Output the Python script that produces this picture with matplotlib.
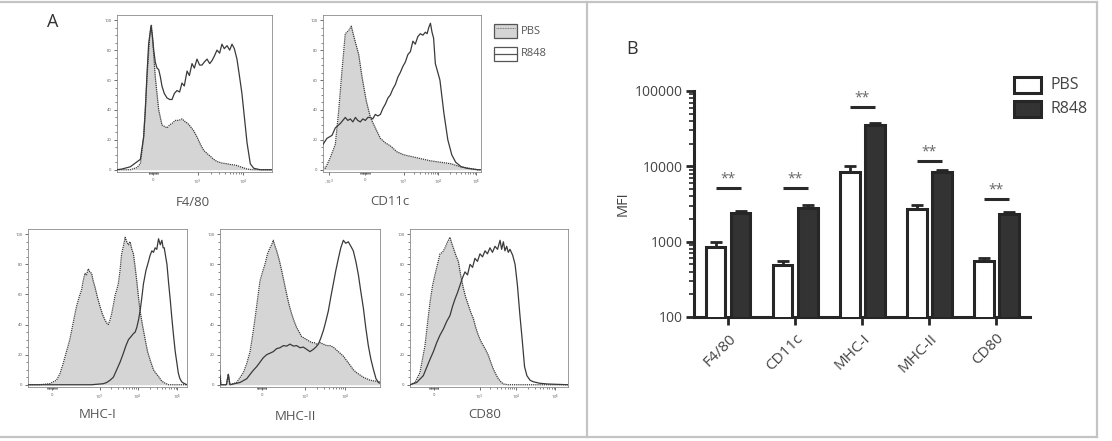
import numpy as np
import matplotlib.pyplot as plt
from matplotlib.lines import Line2D
from matplotlib.patches import Rectangle

plt.rcParams['font.family'] = ['Open Sans', 'DejaVu Sans']

# ---------------- panel A : flow histograms (channel 0-1000, % of max) ----------------
f480_pbs_x = [0, 43, 86, 129, 151, 172, 194, 211, 222, 232, 247, 269, 290, 306, 323, 340, 355, 377, 398, 420,
              441, 457, 473, 495, 516, 538, 559, 580, 602, 624, 645, 677, 710, 732, 753, 775, 796, 818, 839, 860,
              882, 940, 1000]
f480_pbs_y = [0, 0, 0, 1.5, 4, 22, 62, 89, 97, 84, 62, 40, 30, 29, 28, 30, 31, 33, 33, 34,
              32, 31, 29, 26, 22, 17, 13, 11, 9, 7, 5.5, 4.5, 4, 3.5, 3.3, 2.8, 2, 1.2, 0.5, 0.2,
              0, 0, 0]
f480_r848_x = [0, 32, 86, 151, 172, 183, 194, 204, 219, 228, 237, 247, 258, 269, 280, 290, 305, 323, 340, 355,
               370, 387, 404, 419, 434, 452, 467, 484, 499, 516, 533, 548, 563, 581, 598, 613, 628, 645, 662, 677,
               692, 710, 727, 742, 757, 774, 791, 806, 822, 839, 860, 882, 925, 1000]
f480_r848_y = [0, 0.5, 2, 7, 22, 40, 65, 84, 96, 90, 80, 72, 68, 67, 62, 56, 51, 48, 47, 47,
               51, 53, 52, 58, 56, 66, 63, 71, 68, 74, 70, 70, 72, 74, 71, 73, 76, 80, 78, 84,
               81, 83, 80, 84, 81, 74, 62, 51, 35, 18, 4, 1, 0, 0]

cd11c_pbs_x = [0, 15, 46, 78, 99, 120, 141, 162, 179, 198, 226, 247, 274, 300, 331, 363, 395, 426, 468, 511,
               553, 595, 637, 679, 711, 745, 780, 810, 840, 870, 900, 950, 980, 1000]
cd11c_pbs_y = [2, 1, 8, 17, 39, 66, 91, 93, 96, 88, 77, 62, 46, 35, 28, 21, 18, 16, 12, 10,
               9, 8, 7, 6, 5.5, 5, 4.5, 4, 3, 2, 1.5, 0.5, 0, 0]
cd11c_r848_x = [0, 25, 57, 78, 110, 141, 157, 173, 189, 205, 220, 236, 252, 268, 284, 300, 315, 331, 347, 363,
                379, 395, 411, 426, 442, 458, 474, 489, 505, 521, 537, 553, 569, 584, 600, 616, 632, 648, 659, 669,
                680, 690, 700, 711, 740, 765, 790, 815, 840, 875, 910, 980, 1000]
cd11c_r848_y = [17, 21, 23, 28, 31, 35, 33, 34, 32, 35, 33, 32, 34, 33, 35, 35, 34, 37, 36, 37,
                41, 44, 48, 50, 54, 57, 62, 65, 69, 72, 77, 79, 86, 84, 89, 91, 90, 92, 91, 95,
                98, 92, 88, 71, 60, 38, 20, 10, 5, 2, 1, 0, 0]

mhc1_pbs_x = [0, 74, 137, 179, 200, 221, 242, 263, 284, 305, 321, 337, 347, 358, 368, 379, 389, 400, 410, 421,
              437, 453, 468, 484, 495, 505, 516, 526, 537, 547, 558, 568, 579, 589, 600, 611, 621, 632, 642, 653,
              663, 674, 684, 695, 705, 721, 737, 752, 768, 779, 789, 805, 821, 837, 853, 884, 1000]
mhc1_pbs_y = [0, 0, 0.7, 3, 7, 14, 22, 30, 41, 52, 58, 63, 69, 74, 73, 77, 75, 74, 69, 65,
              58, 52, 47, 43, 41, 40, 43, 47, 53, 59, 63, 67, 76, 87, 92, 98, 95, 93, 95, 90,
              87, 78, 69, 58, 49, 39, 30, 22, 16.5, 13, 10, 7.5, 5.5, 3, 1.5, 0, 0]
mhc1_r848_x = [0, 400, 474, 495, 516, 537, 558, 579, 600, 616, 632, 648, 663, 674, 684, 695, 705, 716, 726, 742,
               758, 768, 779, 789, 800, 810, 821, 832, 842, 850, 857, 866, 874, 884, 895, 905, 916, 926, 937, 945,
               954, 966, 979, 1000]
mhc1_r848_y = [0, 0, 0.7, 1.5, 3, 5, 10, 15, 21, 26, 30, 32, 34, 35, 38, 43, 49, 58, 67, 76,
               82, 86, 89, 88, 91, 90, 97, 93, 96, 91, 91, 85, 80, 68, 56, 44, 32, 22, 14, 8,
               4.4, 2, 1, 0]

mhc2_pbs_x = [0, 5, 40, 52, 62, 104, 146, 167, 188, 204, 219, 235, 250, 266, 281, 297, 313, 323, 333, 344,
              354, 370, 385, 401, 417, 432, 448, 464, 479, 495, 510, 526, 542, 557, 573, 589, 604, 625, 646, 667,
              688, 708, 729, 750, 771, 792, 813, 833, 854, 875, 896, 917, 938, 965, 1000]
mhc2_pbs_y = [13, 0, 0, 7, 0, 1.5, 8, 14, 22, 33, 44, 57, 69, 75, 80, 87, 91, 93, 96, 92,
              89, 83, 76, 68, 60, 53, 47, 42, 38, 35, 32, 31, 30, 29, 28, 28, 27, 28, 27, 26,
              26, 25, 23, 21, 19, 16, 13, 10, 8, 6.5, 5, 4, 3, 2.5, 2]
mhc2_r848_x = [0, 5, 40, 52, 62, 83, 125, 167, 208, 229, 250, 271, 292, 313, 333, 354, 375, 396, 417, 438,
               458, 479, 500, 521, 542, 562, 583, 599, 615, 630, 646, 661, 677, 692, 708, 724, 740, 755, 771, 786,
               802, 818, 833, 849, 865, 880, 896, 911, 927, 943, 958, 975, 990, 1000]
mhc2_r848_y = [6, 0, 0, 7, 0, 0.5, 1.5, 4, 9.6, 12, 15, 18, 20, 21, 22, 24, 24.6, 26, 25.7, 27,
               25.7, 26, 24.6, 25, 23.5, 22, 23.5, 25, 27, 31, 36, 42, 49, 58, 67, 76, 84, 91, 96, 94,
               95, 92, 89, 82, 73, 62, 51, 38, 26, 17, 10.5, 4, 1.5, 1]

cd80_pbs_x = [0, 32, 63, 95, 111, 127, 143, 158, 174, 190, 206, 222, 238, 253, 264, 274, 290, 306, 322, 338,
              353, 369, 385, 401, 416, 432, 448, 464, 480, 496, 511, 527, 543, 559, 575, 591, 622, 1000]
cd80_pbs_y = [0, 1.5, 8, 26, 41, 55, 66, 73, 80, 87, 88, 91, 95, 98, 94, 91, 86, 82, 72, 64,
              58, 53, 48, 44, 38, 33, 29, 26, 23, 19.5, 15, 10.5, 7, 4, 2, 0.5, 0, 0]
cd80_r848_x = [0, 42, 84, 127, 148, 169, 190, 211, 232, 253, 269, 285, 300, 316, 332, 348, 364, 380, 396, 411,
               427, 443, 459, 475, 490, 506, 522, 538, 554, 570, 580, 591, 601, 612, 622, 633, 650, 665, 680, 695,
               710, 725, 740, 760, 780, 820, 870, 1000]
cd80_r848_y = [0, 1.5, 6, 17, 22, 28, 33, 37, 42, 46, 52, 57, 61, 66, 71, 75, 73, 80, 78, 84,
               82, 87, 85, 89, 87, 91, 88, 92, 90, 96, 90, 95, 89, 92, 88, 90, 86, 80, 66, 47,
               30, 12, 6, 3, 2, 1, 0.5, 0]

# x tick labels of each histogram (biexponential scale)
f480_ticks = [234, 520, 815]
f480_labels = ['0', '10$^3$', '10$^4$']
cd11c_ticks = [40, 265, 510, 730, 970]
cd11c_labels = ['-10$^3$', '0', '10$^3$', '10$^4$', '10$^5$']
mhc1_ticks = [150, 450, 690, 940]
mhc1_labels = ['0', '10$^3$', '10$^4$', '10$^5$']
mhc2_ticks = [260, 530, 780]
mhc2_labels = ['0', '10$^3$', '10$^4$']
cd80_ticks = [150, 440, 670, 920]
cd80_labels = ['0', '10$^3$', '10$^4$', '10$^5$']

# ---------------- panel B : MFI bar chart ----------------
markers = ['F4/80', 'CD11c', 'MHC-I', 'MHC-II', 'CD80']
pbs_mfi = [850, 495, 8300, 2750, 550]
pbs_sem = [150, 65, 1700, 350, 50]
r848_mfi = [2400, 2830, 35500, 8300, 2340]
r848_sem = [150, 200, 2500, 600, 130]
sig_height = [5160, 5160, 61500, 11800, 3690]
sig_text = ['**', '**', '**', '**', '**']

W, H = 1112, 441
fig = plt.figure(figsize=(W / 100, H / 100), dpi=100)
fig.patch.set_facecolor('white')


def px_axes(x0, y0, x1, y1):
    return fig.add_axes([x0 / W, 1 - y1 / H, (x1 - x0) / W, (y1 - y0) / H])


def fig_line(xs, ys, **kw):
    fig.add_artist(Line2D([x / W for x in xs], [1 - y / H for y in ys], transform=fig.transFigure, **kw))


def fig_rect(x0, y0, x1, y1, **kw):
    fig.add_artist(Rectangle((x0 / W, 1 - y1 / H), (x1 - x0) / W, (y1 - y0) / H,
                             transform=fig.transFigure, **kw))


def histo(box, px, py, rx, ry, ticks, labels, name, name_xy):
    ax = px_axes(*box)
    ax.fill_between(px, py, 0, color='#d5d5d5', lw=0, zorder=1)
    ax.plot(px, py, color='#3a3a3a', lw=0.9, ls=(0, (1, 0.7)), zorder=2)
    ax.plot(rx, ry, color='#3a3a3a', lw=0.9, zorder=3)
    ax.set_xlim(0, 1000)
    ax.set_ylim(-1.5, 103.5)
    for s in ax.spines.values():
        s.set_color('#8a8a8a')
        s.set_linewidth(0.6)
    ax.set_yticks([0, 20, 40, 60, 80, 100])
    ax.set_yticklabels(['0', '20', '40', '60', '80', '100'])
    ax.set_yticks(np.arange(0, 101, 5), minor=True)
    ax.set_xticks(ticks)
    ax.set_xticklabels(labels)
    # minor ticks: dense near zero, log-like between decades
    zero = ticks[labels.index('0')]
    minor = list(zero + np.arange(-30, 31, 5))
    for a, b in zip(ticks[labels.index('0') + 1:-1], ticks[labels.index('0') + 2:]):
        minor += [a + np.log10(j) * (b - a) for j in range(2, 10)]
    ax.set_xticks(minor, minor=True)
    ax.tick_params(which='major', length=2.5, width=0.6, color='#555', labelsize=3, labelcolor='#555', pad=1.5)
    ax.tick_params(which='minor', length=1.5, width=0.5, color='#555')
    fig.text(name_xy[0] / W, 1 - name_xy[1] / H, name, ha='center', va='center', fontsize=9.5, color='#555')
    return ax


histo((117, 15, 272, 172), f480_pbs_x, f480_pbs_y, f480_r848_x, f480_r848_y,
      f480_ticks, f480_labels, 'F4/80', (193, 202))
histo((323, 15, 481, 172), cd11c_pbs_x, cd11c_pbs_y, cd11c_r848_x, cd11c_r848_y,
      cd11c_ticks, cd11c_labels, 'CD11c', (390, 201))
histo((28, 229, 187, 387), mhc1_pbs_x, mhc1_pbs_y, mhc1_r848_x, mhc1_r848_y,
      mhc1_ticks, mhc1_labels, 'MHC-I', (98, 414))
histo((220, 229, 380, 387), mhc2_pbs_x, mhc2_pbs_y, mhc2_r848_x, mhc2_r848_y,
      mhc2_ticks, mhc2_labels, 'MHC-II', (295, 416))
histo((410, 229, 568, 387), cd80_pbs_x, cd80_pbs_y, cd80_r848_x, cd80_r848_y,
      cd80_ticks, cd80_labels, 'CD80', (485, 414))

# legend of panel A
fig_rect(494, 24, 517, 38, facecolor='#d5d5d5', edgecolor='#555', lw=0.9)
fig_line([496, 515], [27.5, 27.5], color='#777', lw=0.7, ls=(0, (1, 0.7)))
fig_rect(494, 47, 517, 61, facecolor='white', edgecolor='#555', lw=0.9)
fig_line([494, 517], [54, 54], color='#555', lw=0.9)
fig.text(521 / W, 1 - 31 / H, 'PBS', ha='left', va='center', fontsize=8, color='#555')
fig.text(521 / W, 1 - 54 / H, 'R848', ha='left', va='center', fontsize=8, color='#555')

fig.text(53 / W, 1 - 22 / H, 'A', ha='center', va='center', fontsize=13, color='#333')

# ---------------- panel B ----------------
axb = px_axes(694, 91, 1030, 317)
xpos = np.arange(len(markers))
off, bw = 0.187, 0.29
base = 50
axb.bar(xpos - off, np.array(pbs_mfi) - base, bw, bottom=base, color='white', edgecolor='#262626', lw=2.2, zorder=3)
axb.bar(xpos + off, np.array(r848_mfi) - base, bw, bottom=base, color='#333333', edgecolor='#262626', lw=2.2, zorder=3)
axb.errorbar(xpos - off, pbs_mfi, yerr=[np.zeros(5), pbs_sem], fmt='none', ecolor='#262626',
             elinewidth=2, capsize=4.5, capthick=2, zorder=2)
axb.errorbar(xpos + off, r848_mfi, yerr=[np.zeros(5), r848_sem], fmt='none', ecolor='#262626',
             elinewidth=2, capsize=4.5, capthick=2, zorder=2)
for i, (h, t) in enumerate(zip(sig_height, sig_text)):
    axb.plot([i - off, i + off], [h, h], color='#2a2a2a', lw=2.2, solid_capstyle='butt', clip_on=False)
    axb.text(i, h * 1.06, t, ha='center', va='bottom', fontsize=10, color='#666')

axb.set_yscale('log')
axb.set_ylim(100, 100000)
axb.set_xlim(-0.51, 4.5)
axb.set_yticks([100, 1000, 10000, 100000])
axb.set_yticklabels(['100', '1000', '10000', '100000'])
axb.set_xticks(xpos)
axb.set_xticklabels(markers, rotation=45, ha='right', rotation_mode='anchor')
for s in ['top', 'right']:
    axb.spines[s].set_visible(False)
for s in ['left', 'bottom']:
    axb.spines[s].set_linewidth(2.2)
    axb.spines[s].set_color('#262626')
axb.tick_params(axis='y', which='major', length=6, width=2, color='#262626', labelsize=10, labelcolor='#444', pad=2)
axb.tick_params(axis='y', which='minor', length=3.5, width=1.2, color='#262626')
axb.tick_params(axis='x', length=6, width=2, color='#262626', labelsize=11, labelcolor='#444', pad=4)
axb.set_ylabel('MFI', fontsize=10.5, color='#444', labelpad=3)

# legend of panel B
fig_rect(1014, 77, 1041, 93, facecolor='white', edgecolor='#262626', lw=2.2)
fig_rect(1014, 101, 1041, 117, facecolor='#333333', edgecolor='#262626', lw=2.2)
fig.text(1051 / W, 1 - 85 / H, 'PBS', ha='left', va='center', fontsize=11.5, color='#444')
fig.text(1051 / W, 1 - 109 / H, 'R848', ha='left', va='center', fontsize=11.5, color='#444')

fig.text(632 / W, 1 - 49 / H, 'B', ha='center', va='center', fontsize=13, color='#333')

# frame lines around the figure and panel divider
frame = dict(color='#c4c4c4', lw=1.6)
fig_line([0, 1097], [2, 2], **frame)
fig_line([0, 1097], [437, 437], **frame)
fig_line([1097, 1097], [2, 437], **frame)
fig_line([587, 587], [2, 437], **frame)

plt.savefig('out.png', dpi=100)
